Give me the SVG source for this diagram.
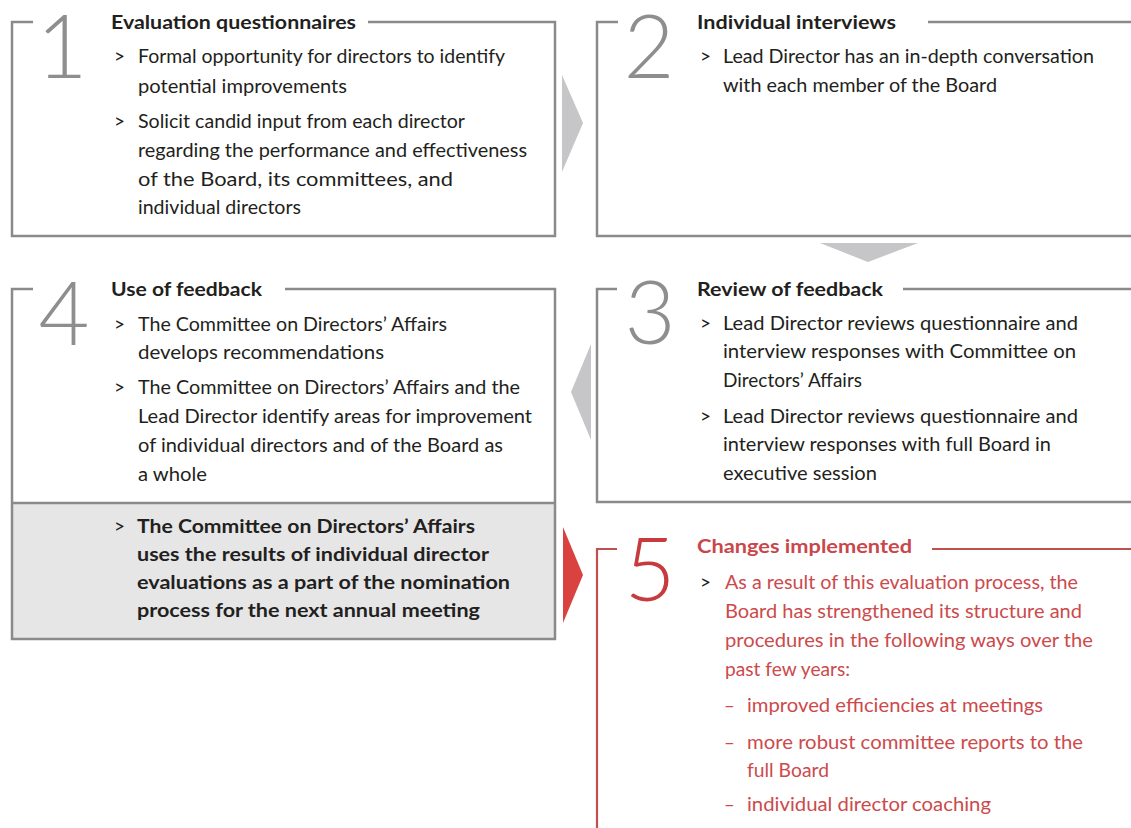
<svg xmlns="http://www.w3.org/2000/svg" width="1131" height="828" viewBox="0 0 1131 828">
<style>
.frame{fill:none;stroke:#8a8a8a;stroke-width:2.5}
.rframe{fill:none;stroke:#c0504d;stroke-width:2.2}
.num{font-family:Lato,"Open Sans",sans-serif;font-weight:300;font-size:88px;fill:#8e8e8e;text-anchor:middle}
.rnum{fill:#c73a3d}
.title{font-family:Lato,"Liberation Sans",sans-serif;font-weight:bold;font-size:18.5px;fill:#231f20}
.rtitle{fill:#c9474a}
.body{font-family:Lato,"Liberation Sans",sans-serif;font-size:18.5px;fill:#231f20}
.bold{font-weight:bold}
.red{fill:#cc4a4c}
.gt{font-family:Lato,"Liberation Sans",sans-serif;font-size:19px;fill:#231f20}
.arrow{fill:#c6c6c8}
.rarrow{fill:#d9423f}
</style>
<rect width="1131" height="828" fill="#ffffff"/>

<g id="connectors">
<polygon class="arrow" points="562,75 583,123 562,172"/>
<polygon class="arrow" points="820,243 918,243 868,262"/>
<polygon class="arrow" points="591,344 591,440 571,392"/>
<polygon class="rarrow" points="563,527 583,575 563,623"/>
</g>

<g id="node1">
<path class="frame" d="M33,22 H12 V236 H555 V22 H368"/>
<text class="num" x="62" y="78">1</text>
<text class="title" x="111" y="29" textLength="245" lengthAdjust="spacingAndGlyphs">Evaluation questionnaires</text>
<text class="gt" x="114" y="63">&gt;</text>
<text class="body" x="138" y="63" textLength="367" lengthAdjust="spacingAndGlyphs">Formal opportunity for directors to identify</text>
<text class="body" x="138" y="93" textLength="209" lengthAdjust="spacingAndGlyphs">potential improvements</text>
<text class="gt" x="114" y="128">&gt;</text>
<text class="body" x="138" y="128" textLength="327" lengthAdjust="spacingAndGlyphs">Solicit candid input from each director</text>
<text class="body" x="138" y="157" textLength="389" lengthAdjust="spacingAndGlyphs">regarding the performance and effectiveness</text>
<text class="body" x="138" y="186" textLength="315" lengthAdjust="spacingAndGlyphs">of the Board, its committees, and</text>
<text class="body" x="138" y="214" textLength="163" lengthAdjust="spacingAndGlyphs">individual directors</text>
</g>

<g id="node2">
<path class="frame" d="M618,22 H597 V236 H1131"/>
<path class="frame" d="M928,22 H1131"/>
<text class="num" x="649" y="78">2</text>
<text class="title" x="697" y="29" textLength="199" lengthAdjust="spacingAndGlyphs">Individual interviews</text>
<text class="gt" x="700" y="63">&gt;</text>
<text class="body" x="723" y="63" textLength="371" lengthAdjust="spacingAndGlyphs">Lead Director has an in-depth conversation</text>
<text class="body" x="723" y="92" textLength="274" lengthAdjust="spacingAndGlyphs">with each member of the Board</text>
</g>

<g id="node3">
<path class="frame" d="M617,289 H597 V502 H1131"/>
<path class="frame" d="M903,289 H1131"/>
<text class="num" x="650" y="344">3</text>
<text class="title" x="697" y="296" textLength="186" lengthAdjust="spacingAndGlyphs">Review of feedback</text>
<text class="gt" x="700" y="330">&gt;</text>
<text class="body" x="723" y="330" textLength="355" lengthAdjust="spacingAndGlyphs">Lead Director reviews questionnaire and</text>
<text class="body" x="723" y="358" textLength="353" lengthAdjust="spacingAndGlyphs">interview responses with Committee on</text>
<text class="body" x="723" y="387" textLength="139" lengthAdjust="spacingAndGlyphs">Directors’ Affairs</text>
<text class="gt" x="700" y="423">&gt;</text>
<text class="body" x="723" y="423" textLength="355" lengthAdjust="spacingAndGlyphs">Lead Director reviews questionnaire and</text>
<text class="body" x="723" y="451" textLength="328" lengthAdjust="spacingAndGlyphs">interview responses with full Board in</text>
<text class="body" x="723" y="480" textLength="154" lengthAdjust="spacingAndGlyphs">executive session</text>
</g>

<g id="node4">
<rect x="12" y="503" width="543" height="136" fill="#e6e6e7"/>
<path class="frame" d="M33,289 H12 V639 H555 V289 H285"/>
<path class="frame" d="M12,503 H555"/>
<text class="num" x="64" y="345">4</text>
<text class="title" x="111" y="296" textLength="151" lengthAdjust="spacingAndGlyphs">Use of feedback</text>
<text class="gt" x="114" y="331">&gt;</text>
<text class="body" x="138" y="331" textLength="309" lengthAdjust="spacingAndGlyphs">The Committee on Directors’ Affairs</text>
<text class="body" x="138" y="359" textLength="246" lengthAdjust="spacingAndGlyphs">develops recommendations</text>
<text class="gt" x="114" y="394">&gt;</text>
<text class="body" x="138" y="394" textLength="382" lengthAdjust="spacingAndGlyphs">The Committee on Directors’ Affairs and the</text>
<text class="body" x="138" y="423" textLength="394" lengthAdjust="spacingAndGlyphs">Lead Director identify areas for improvement</text>
<text class="body" x="138" y="452" textLength="365" lengthAdjust="spacingAndGlyphs">of individual directors and of the Board as</text>
<text class="body" x="138" y="481" textLength="69" lengthAdjust="spacingAndGlyphs">a whole</text>
<text class="gt" x="114" y="533">&gt;</text>
<text class="body bold" x="137" y="533" textLength="338" lengthAdjust="spacingAndGlyphs">The Committee on Directors’ Affairs</text>
<text class="body bold" x="137" y="561" textLength="352" lengthAdjust="spacingAndGlyphs">uses the results of individual director</text>
<text class="body bold" x="137" y="589" textLength="373" lengthAdjust="spacingAndGlyphs">evaluations as a part of the nomination</text>
<text class="body bold" x="137" y="617" textLength="343" lengthAdjust="spacingAndGlyphs">process for the next annual meeting</text>
</g>

<g id="node5">
<path class="rframe" d="M617,549 H597 V828"/>
<path class="rframe" d="M932,549 H1131"/>
<text class="num rnum" x="650" y="601">5</text>
<text class="title rtitle" x="697" y="553" textLength="215" lengthAdjust="spacingAndGlyphs">Changes implemented</text>
<text class="gt red" x="700" y="589">&gt;</text>
<text class="body red" x="725" y="589" textLength="353" lengthAdjust="spacingAndGlyphs">As a result of this evaluation process, the</text>
<text class="body red" x="725" y="618" textLength="357" lengthAdjust="spacingAndGlyphs">Board has strengthened its structure and</text>
<text class="body red" x="725" y="647" textLength="368" lengthAdjust="spacingAndGlyphs">procedures in the following ways over the</text>
<text class="body red" x="725" y="676" textLength="125" lengthAdjust="spacingAndGlyphs">past few years:</text>
<text class="body red" x="724" y="712">–</text>
<text class="body red" x="747" y="712" textLength="296" lengthAdjust="spacingAndGlyphs">improved efficiencies at meetings</text>
<text class="body red" x="724" y="749">–</text>
<text class="body red" x="747" y="749" textLength="336" lengthAdjust="spacingAndGlyphs">more robust committee reports to the</text>
<text class="body red" x="747" y="777" textLength="82" lengthAdjust="spacingAndGlyphs">full Board</text>
<text class="body red" x="724" y="811">–</text>
<text class="body red" x="747" y="811" textLength="244" lengthAdjust="spacingAndGlyphs">individual director coaching</text>
</g>
</svg>
